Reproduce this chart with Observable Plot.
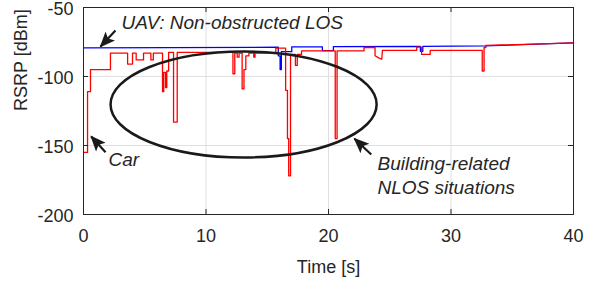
<!DOCTYPE html>
<html><head><meta charset="utf-8">
<script src="https://cdn.jsdelivr.net/npm/d3@7"></script>
<script src="https://cdn.jsdelivr.net/npm/@observablehq/plot@0.6"></script>
<style>body{margin:0;background:#fff}</style>
</head><body><div id="chart"></div>
<script>
// ---- data ----
const xTicks = [0, 10, 20, 30, 40];
const yTicks = [-200, -150, -100, -50];
const xLabel = "Time [s]";
const yLabel = "RSRP [dBm]";

const carTime = [0,0.33,0.33,0.57,0.57,2.2,2.2,3.6,3.6,4.0,4.0,4.3,4.3,4.9,4.9,5.5,5.5,5.7,5.7,6.45,6.45,6.55,6.55,6.7,6.7,6.8,6.8,6.95,6.95,7.35,7.35,7.65,7.65,12.2,12.2,12.35,12.35,12.55,12.55,12.7,12.7,12.95,12.95,13.1,13.1,13.25,13.25,13.5,13.5,13.9,13.9,14.0,14.0,15.7,15.7,16.5,16.5,16.65,16.65,16.75,16.75,16.9,16.9,17.3,17.3,17.45,17.45,17.8,17.8,20.55,20.55,20.7,20.7,22.9,22.9,23.8,23.8,24.1,24.35,24.4,27.2,27.2,27.6,27.6,28.3,28.3,32.55,32.55,32.7,32.7,32.85,32.85,40];
const carRsrp = [-155,-155,-111,-111,-95,-95,-83,-83,-91,-91,-83,-83,-88,-88,-83,-83,-88,-88,-83,-83,-111,-111,-97,-97,-108,-108,-96,-96,-82.5,-82.5,-133,-133,-82.5,-82.5,-98,-98,-83,-83,-86,-86,-83,-83,-109,-109,-95,-95,-85,-85,-83,-83,-86,-86,-83,-83,-79.5,-79.5,-110,-110,-145,-145,-172,-172,-84,-84,-92,-92,-84,-84,-81.5,-81.5,-145,-145,-81.5,-81.5,-79,-79,-85,-86.5,-87.5,-81,-81,-78.7,-78.7,-84,-84,-81,-81,-96,-96,-79,-79,-77.5,-75.7];

const uavTime = [0,15.9,15.9,16.05,16.05,16.15,16.15,17.0,17.0,19.5,19.5,20.4,20.4,27.5,27.5,27.7,27.7,32.8,40];
const uavRsrp = [-79.2,-78.8,-85,-85,-95,-95,-82,-82,-78.5,-78.5,-81.2,-81.2,-78.4,-78.2,-81.7,-81.7,-78.2,-77.8,-75.7];

// ---- annotations (data coordinates) ----
const noteText = ["UAV: Non-obstructed LOS", "Car", "Building-related", "NLOS situations"];
const noteT = [3.1, 2.04, 24.0, 24.0];
const noteV = [-65.9, -165.2, -168.1, -184.8];
const arrowFromT = [2.61, 1.80, 23.49];
const arrowFromV = [-66.7, -154.9, -156.5];
const arrowToT = [1.39, 0.63, 22.12];
const arrowToV = [-78.3, -143.5, -145.1];
const ellipseC = [13.11, -120.65];
const ellipseR = [10.86, 38.4];

const car = carTime.map((t, i) => ({t, v: carRsrp[i]}));
const uav = uavTime.map((t, i) => ({t, v: uavRsrp[i]}));
const notes = noteText.map((s, i) => ({s, t: noteT[i], v: noteV[i]}));
const arrows = arrowFromT.map((t, i) => ({x1: t, y1: arrowFromV[i], x2: arrowToT[i], y2: arrowToV[i]}));

const ink = "#262626";
const plot = Plot.plot({
  width: 597, height: 281,
  marginLeft: 83, marginRight: 24, marginTop: 7, marginBottom: 67,
  x: {domain: [0, 40]},
  y: {domain: [-200, -50]},
  style: {fontSize: "18px", fontFamily: "Arial, 'Liberation Sans', sans-serif", color: ink, background: "#fff"},
  marks: [
    Plot.gridX(xTicks, {stroke: "#dfdfdf", strokeOpacity: 1}),
    Plot.gridY(yTicks, {stroke: "#dfdfdf", strokeOpacity: 1}),
    Plot.line(uav, {x: "t", y: "v", stroke: "#0000ff", strokeWidth: 1.3}),
    Plot.line(car, {x: "t", y: "v", stroke: "#ff0000", strokeWidth: 1.3}),
    Plot.frame({stroke: ink}),
    Plot.tickX(xTicks, {x: d => d, insetTop: 202, stroke: ink}),
    Plot.tickX(xTicks, {x: d => d, insetBottom: 202, stroke: ink}),
    Plot.tickY(yTicks, {y: d => d, insetRight: 485, stroke: ink}),
    Plot.tickY(yTicks, {y: d => d, insetLeft: 485, stroke: ink}),
    Plot.axisX(xTicks, {tickSize: 0, tickPadding: 15, label: null, tickFormat: d => String(d)}),
    Plot.axisY(yTicks, {tickSize: 0, tickPadding: 10, label: null, dy: 2, tickFormat: d => String(d)}),
    Plot.text([xLabel], {frameAnchor: "bottom", dy: 58, lineAnchor: "bottom", text: d => d}),
    Plot.text([yLabel], {frameAnchor: "left", dx: -57, rotate: -90, lineAnchor: "bottom", text: d => d}),
    Plot.link(arrows, {x1: "x1", y1: "y1", x2: "x2", y2: "y2", stroke: "#1a1a1a", strokeWidth: 2.2}),
    Plot.text(notes, {x: "t", y: "v", text: "s", textAnchor: "start", lineAnchor: "bottom", fontStyle: "italic", fontSize: 19, fill: ink})
  ]
});

// ellipse annotation + filled arrowheads, placed via the plot's own scales
const sx = plot.scale("x"), sy = plot.scale("y");
const svg = d3.select(plot);
const defs = svg.append("defs");
defs.append("marker")
  .attr("id", "ahead").attr("viewBox", "0 0 12 10").attr("refX", 11).attr("refY", 5)
  .attr("markerWidth", 17).attr("markerHeight", 13).attr("markerUnits", "userSpaceOnUse")
  .attr("orient", "auto")
  .append("path").attr("d", "M0,0 L12,5 L0,10 L2.5,5 Z").attr("fill", "#1a1a1a");
svg.selectAll("g[aria-label=link] path").attr("marker-end", "url(#ahead)");
const cx = sx.apply(ellipseC[0]), cy = sy.apply(ellipseC[1]);
const rx = sx.apply(ellipseC[0] + ellipseR[0]) - cx;
const ry = sy.apply(ellipseC[1] - ellipseR[1]) - cy;
svg.append("ellipse").attr("cx", cx).attr("cy", cy).attr("rx", rx).attr("ry", ry)
  .attr("fill", "none").attr("stroke", "#1a1a1a").attr("stroke-width", 2.5);

document.getElementById("chart").append(plot);
</script>
</body></html>
